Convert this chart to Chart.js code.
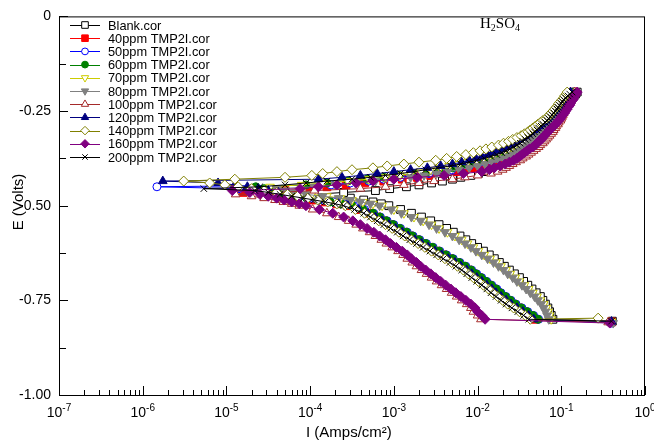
<!DOCTYPE html>
<html>
<head>
<meta charset="utf-8">
<script src="https://cdn.jsdelivr.net/npm/chart.js@4.4.1/dist/chart.umd.min.js"></script>
<style>
html, body { margin: 0; padding: 0; background: #fff; }
canvas { display: block; }
</style>
</head>
<body>
<canvas id="tafel" width="654" height="440" style="width:654px;height:440px"></canvas>
<script>
const seriesNames = ['Blank.cor', '40ppm TMP2I.cor', '50ppm TMP2I.cor', '60ppm TMP2I.cor', '70ppm TMP2I.cor',
    '80ppm TMP2I.cor', '100ppm TMP2I.cor', '120ppm TMP2I.cor', '140ppm TMP2I.cor', '160ppm TMP2I.cor', '200ppm TMP2I.cor'];

// scan potentials (V), shared by all runs
const potential = [
    -0.80, -0.79, -0.78, -0.77, -0.76, -0.75, -0.74, -0.73, -0.72, -0.71,
    -0.70, -0.69, -0.68, -0.67, -0.66, -0.65, -0.64, -0.63, -0.62, -0.61,
    -0.60, -0.59, -0.58, -0.57, -0.56, -0.55, -0.54, -0.53, -0.52, -0.51,
    -0.50, -0.495, -0.49, -0.485, -0.48, -0.475, -0.47, -0.465, -0.46, -0.455,
    -0.45, -0.445, -0.44, -0.435, -0.43, -0.425, -0.42, -0.415, -0.41, -0.405,
    -0.40, -0.395, -0.39, -0.385, -0.38, -0.375, -0.37, -0.365, -0.36, -0.355,
    -0.35, -0.345, -0.34, -0.335, -0.33, -0.325, -0.32, -0.315, -0.31, -0.305,
    -0.30, -0.295, -0.29, -0.285, -0.28, -0.275, -0.27, -0.265, -0.26, -0.255,
    -0.25, -0.245, -0.24, -0.235, -0.23, -0.225, -0.22, -0.215, -0.21, -0.205,
    -0.20];

// log10 of current density (A/cm2) at each potential
const logBlank = [
    -1.10, -1.12, -1.14, -1.16, -1.19, -1.22, -1.25, -1.30, -1.35, -1.40,
    -1.45, -1.50, -1.56, -1.62, -1.68, -1.74, -1.80, -1.86, -1.93, -2.00,
    -2.07, -2.14, -2.21, -2.29, -2.37, -2.46, -2.56, -2.67, -2.79, -2.92,
    -3.06, -3.15, -3.25, -3.36, -3.52, -4.36, -3.95, -3.60, -3.22, -3.05,
    -2.85, -2.70, -2.55, -2.42, -2.30, -2.20, -2.08, -1.99, -1.89, -1.82,
    -1.76, -1.70, -1.65, -1.60, -1.56, -1.53, -1.50, -1.47, -1.44, -1.40,
    -1.37, -1.34, -1.31, -1.29, -1.27, -1.25, -1.23, -1.21, -1.19, -1.17,
    -1.15, -1.13, -1.11, -1.09, -1.07, -1.06, -1.04, -1.03, -1.01, -1.00,
    -0.99, -0.98, -0.97, -0.95, -0.93, -0.91, -0.89, -0.87, -0.85, -0.83,
    -0.81];
const log40 = [
    -1.31, -1.37, -1.44, -1.51, -1.58, -1.64, -1.70, -1.76, -1.81, -1.87,
    -1.93, -1.99, -2.05, -2.11, -2.18, -2.25, -2.33, -2.41, -2.49, -2.57,
    -2.65, -2.73, -2.81, -2.88, -2.96, -3.04, -3.12, -3.20, -3.28, -3.40,
    -3.55, -3.68, -3.82, -3.98, -4.15, -4.35, -4.55, -4.80, -4.30, -4.00,
    -3.80, -3.57, -3.35, -3.12, -2.90, -2.72, -2.56, -2.40, -2.26, -2.15,
    -2.05, -1.96, -1.89, -1.82, -1.76, -1.70, -1.65, -1.60, -1.56, -1.52,
    -1.49, -1.46, -1.43, -1.40, -1.37, -1.34, -1.31, -1.29, -1.26, -1.24,
    -1.22, -1.20, -1.18, -1.15, -1.13, -1.11, -1.09, -1.07, -1.05, -1.04,
    -1.02, -1.00, -0.99, -0.97, -0.96, -0.94, -0.92, -0.90, -0.88, -0.87,
    -0.85];
const log50 = [
    -1.27, -1.33, -1.40, -1.47, -1.54, -1.60, -1.66, -1.72, -1.77, -1.83,
    -1.89, -1.95, -2.01, -2.07, -2.14, -2.21, -2.29, -2.37, -2.45, -2.53,
    -2.61, -2.69, -2.77, -2.84, -2.92, -3.00, -3.08, -3.16, -3.24, -3.35,
    -3.48, -3.60, -3.72, -3.85, -3.98, -4.12, -4.26, -4.42, -4.60, -4.85,
    -5.83, -3.75, -3.52, -3.30, -3.12, -2.92, -2.74, -2.58, -2.44, -2.31,
    -2.20, -2.10, -2.00, -1.92, -1.85, -1.78, -1.71, -1.66, -1.61, -1.57,
    -1.53, -1.49, -1.46, -1.42, -1.39, -1.36, -1.33, -1.31, -1.28, -1.26,
    -1.24, -1.21, -1.19, -1.17, -1.15, -1.13, -1.11, -1.09, -1.07, -1.05,
    -1.04, -1.02, -1.01, -0.99, -0.97, -0.96, -0.94, -0.92, -0.90, -0.88,
    -0.86];
const log60 = [
    -1.28, -1.34, -1.41, -1.48, -1.55, -1.61, -1.67, -1.73, -1.78, -1.84,
    -1.90, -1.96, -2.02, -2.08, -2.15, -2.22, -2.30, -2.38, -2.46, -2.54,
    -2.62, -2.70, -2.78, -2.85, -2.93, -3.01, -3.09, -3.17, -3.25, -3.37,
    -3.50, -3.63, -3.76, -3.90, -4.04, -4.18, -4.28, -4.35, -4.45, -4.55,
    -4.65, -4.05, -3.80, -3.55, -3.32, -3.12, -2.94, -2.76, -2.60, -2.44,
    -2.30, -2.19, -2.09, -2.00, -1.92, -1.85, -1.78, -1.72, -1.66, -1.61,
    -1.57, -1.53, -1.49, -1.45, -1.42, -1.39, -1.36, -1.33, -1.30, -1.28,
    -1.25, -1.23, -1.20, -1.18, -1.15, -1.13, -1.11, -1.09, -1.07, -1.05,
    -1.04, -1.02, -1.00, -0.99, -0.97, -0.95, -0.93, -0.91, -0.89, -0.88,
    -0.86];
const log70 = [
    -1.12, -1.14, -1.16, -1.18, -1.21, -1.25, -1.29, -1.34, -1.39, -1.44,
    -1.50, -1.55, -1.61, -1.66, -1.72, -1.78, -1.85, -1.92, -1.99, -2.05,
    -2.12, -2.19, -2.27, -2.36, -2.46, -2.55, -2.65, -2.76, -2.88, -3.00,
    -3.14, -3.25, -3.37, -3.50, -3.64, -3.80, -3.98, -4.15, -4.30, -4.40,
    -4.48, -4.10, -3.85, -3.55, -3.30, -3.10, -2.93, -2.80, -2.68, -2.56,
    -2.45, -2.34, -2.22, -2.12, -2.01, -1.93, -1.86, -1.80, -1.74, -1.68,
    -1.63, -1.59, -1.55, -1.51, -1.47, -1.44, -1.41, -1.38, -1.35, -1.32,
    -1.30, -1.27, -1.25, -1.22, -1.20, -1.17, -1.14, -1.12, -1.10, -1.08,
    -1.06, -1.05, -1.03, -1.02, -1.00, -0.99, -0.97, -0.95, -0.93, -0.91,
    -0.90];
const log80 = [
    -1.15, -1.17, -1.19, -1.21, -1.24, -1.28, -1.32, -1.37, -1.42, -1.47,
    -1.53, -1.58, -1.64, -1.69, -1.75, -1.81, -1.88, -1.95, -2.02, -2.08,
    -2.15, -2.22, -2.30, -2.39, -2.49, -2.58, -2.68, -2.79, -2.91, -3.03,
    -3.17, -3.28, -3.40, -3.52, -3.66, -3.85, -4.05, -4.20, -4.30, -4.40,
    -3.95, -3.70, -3.46, -3.22, -3.00, -2.80, -2.64, -2.49, -2.36, -2.22,
    -2.10, -2.00, -1.91, -1.82, -1.75, -1.69, -1.63, -1.58, -1.54, -1.50,
    -1.47, -1.44, -1.41, -1.38, -1.36, -1.33, -1.31, -1.28, -1.26, -1.24,
    -1.22, -1.20, -1.18, -1.16, -1.14, -1.12, -1.10, -1.08, -1.06, -1.04,
    -1.02, -1.01, -0.99, -0.98, -0.96, -0.95, -0.93, -0.91, -0.89, -0.87,
    -0.85];
const log100 = [
    -1.96, -2.00, -2.05, -2.08, -2.13, -2.19, -2.25, -2.31, -2.37, -2.43,
    -2.49, -2.55, -2.61, -2.67, -2.73, -2.78, -2.84, -2.89, -2.95, -3.02,
    -3.09, -3.15, -3.22, -3.29, -3.37, -3.45, -3.54, -3.66, -3.80, -3.97,
    -4.13, -4.22, -4.32, -4.42, -4.55, -4.70, -4.89, -4.40, -3.95, -3.40,
    -3.10, -2.88, -2.70, -2.52, -2.30, -2.15, -2.00, -1.84, -1.76, -1.70,
    -1.66, -1.62, -1.58, -1.54, -1.49, -1.46, -1.42, -1.39, -1.36, -1.33,
    -1.30, -1.27, -1.25, -1.22, -1.20, -1.18, -1.16, -1.14, -1.12, -1.10,
    -1.09, -1.07, -1.06, -1.04, -1.03, -1.01, -1.00, -0.99, -0.98, -0.97,
    -0.96, -0.95, -0.94, -0.93, -0.92, -0.90, -0.89, -0.88, -0.86, -0.85,
    -0.84];
const log120 = [
    -1.33, -1.39, -1.46, -1.53, -1.60, -1.66, -1.72, -1.78, -1.83, -1.89,
    -1.95, -2.01, -2.07, -2.13, -2.20, -2.27, -2.35, -2.43, -2.51, -2.59,
    -2.67, -2.75, -2.83, -2.90, -2.98, -3.06, -3.14, -3.22, -3.31, -3.42,
    -3.55, -3.66, -3.78, -3.90, -4.02, -4.14, -4.26, -4.38, -4.50, -4.62,
    -4.75, -4.90, -5.10, -5.76, -3.90, -3.62, -3.40, -3.20, -3.00, -2.80,
    -2.60, -2.44, -2.30, -2.19, -2.10, -2.02, -1.95, -1.88, -1.82, -1.76,
    -1.71, -1.66, -1.62, -1.58, -1.54, -1.50, -1.46, -1.43, -1.40, -1.37,
    -1.33, -1.30, -1.27, -1.24, -1.21, -1.19, -1.17, -1.15, -1.13, -1.11,
    -1.09, -1.07, -1.05, -1.03, -1.01, -0.99, -0.97, -0.95, -0.93, -0.91,
    -0.89];
const log140 = [
    -1.37, -1.43, -1.50, -1.57, -1.64, -1.70, -1.76, -1.82, -1.87, -1.93,
    -1.99, -2.05, -2.11, -2.17, -2.24, -2.31, -2.39, -2.47, -2.55, -2.63,
    -2.71, -2.79, -2.87, -2.94, -3.02, -3.10, -3.18, -3.26, -3.35, -3.46,
    -3.58, -3.68, -3.79, -3.91, -4.03, -4.15, -4.27, -4.40, -4.55, -4.70,
    -4.86, -5.02, -5.20, -5.51, -4.90, -4.30, -3.98, -3.85, -3.68, -3.50,
    -3.25, -3.08, -2.88, -2.70, -2.50, -2.37, -2.25, -2.14, -2.05, -1.97,
    -1.90, -1.83, -1.75, -1.69, -1.63, -1.58, -1.53, -1.48, -1.44, -1.40,
    -1.37, -1.34, -1.31, -1.28, -1.25, -1.22, -1.18, -1.16, -1.14, -1.12,
    -1.10, -1.08, -1.06, -1.04, -1.03, -1.01, -0.99, -0.97, -0.96, -0.94,
    -0.93];
const log160 = [
    -1.91, -1.95, -2.00, -2.03, -2.08, -2.14, -2.20, -2.26, -2.32, -2.38,
    -2.44, -2.50, -2.56, -2.62, -2.68, -2.73, -2.79, -2.84, -2.90, -2.97,
    -3.04, -3.10, -3.17, -3.24, -3.32, -3.40, -3.49, -3.60, -3.73, -3.89,
    -4.05, -4.13, -4.22, -4.31, -4.40, -4.50, -4.60, -4.72, -4.93, -4.12,
    -3.90, -3.68, -3.45, -3.25, -3.00, -2.72, -2.40, -2.17, -1.95, -1.86,
    -1.80, -1.73, -1.67, -1.62, -1.57, -1.53, -1.50, -1.47, -1.44, -1.41,
    -1.38, -1.34, -1.31, -1.29, -1.27, -1.24, -1.22, -1.20, -1.18, -1.16,
    -1.14, -1.12, -1.09, -1.07, -1.05, -1.03, -1.01, -1.00, -0.98, -0.96,
    -0.95, -0.93, -0.92, -0.90, -0.89, -0.88, -0.86, -0.85, -0.84, -0.82,
    -0.81];
const log200 = [
    -1.39, -1.45, -1.52, -1.59, -1.66, -1.72, -1.78, -1.84, -1.89, -1.95,
    -2.01, -2.07, -2.13, -2.19, -2.26, -2.33, -2.41, -2.49, -2.57, -2.65,
    -2.73, -2.81, -2.89, -2.96, -3.04, -3.12, -3.20, -3.28, -3.36, -3.47,
    -3.60, -3.70, -3.82, -3.95, -4.08, -4.22, -4.36, -4.50, -4.66, -5.27,
    -4.60, -4.30, -4.05, -3.80, -3.50, -3.28, -3.10, -2.92, -2.76, -2.62,
    -2.48, -2.32, -2.20, -2.10, -2.01, -1.92, -1.84, -1.77, -1.71, -1.66,
    -1.61, -1.57, -1.53, -1.49, -1.46, -1.43, -1.40, -1.37, -1.34, -1.32,
    -1.29, -1.27, -1.24, -1.22, -1.19, -1.17, -1.15, -1.13, -1.11, -1.09,
    -1.07, -1.05, -1.04, -1.02, -1.00, -0.99, -0.97, -0.95, -0.92, -0.90,
    -0.87];

// first recorded point of each scan (start transient)
const startLogI = [-0.39, -0.40, -0.40, -0.42, -0.40, -0.38, -0.44, -0.40, -0.56, -0.42, -0.40];
const startE = [-0.805, -0.807, -0.810, -0.808, -0.806, -0.810, -0.808, -0.806, -0.797, -0.810, -0.805];

const seriesLog = [logBlank, log40, log50, log60, log70, log80, log100, log120, log140, log160, log200];
const decades = [1e-7, 1e-6, 1e-5, 1e-4, 1e-3, 1e-2, 1e-1, 1];
const decadeExp = ['-7', '-6', '-5', '-4', '-3', '-2', '-1', '0'];

const styles = [
    { color: '#000000', point: 'rect', fill: '#ffffff', r: 5.5, rot: 0 },
    { color: '#ff0000', point: 'rect', fill: '#ff0000', r: 5.5, rot: 0 },
    { color: '#0000ff', point: 'circle', fill: '#ffffff', r: 4, rot: 0 },
    { color: '#008000', point: 'circle', fill: '#008000', r: 4, rot: 0 },
    { color: '#cccc00', point: 'triangle', fill: '#ffffff', r: 5, rot: 180 },
    { color: '#808080', point: 'triangle', fill: '#808080', r: 5, rot: 180 },
    { color: '#a52a2a', point: 'triangle', fill: '#ffffff', r: 5, rot: 0 },
    { color: '#000080', point: 'triangle', fill: '#000080', r: 5, rot: 0 },
    { color: '#808000', point: 'rectRot', fill: '#ffffff', r: 5, rot: 0 },
    { color: '#800080', point: 'rectRot', fill: '#800080', r: 5, rot: 0 },
    { color: '#000000', point: 'crossRot', fill: '#000000', r: 4.5, rot: 0 }
];

const datasets = seriesLog.map((logs, i) => ({
    label: seriesNames[i],
    data: [{ x: 10 ** startLogI[i], y: startE[i] }]
        .concat(logs.map((v, k) => ({ x: 10 ** v, y: potential[k] }))),
    showLine: true,
    borderColor: styles[i].color,
    borderWidth: 1,
    pointStyle: styles[i].point,
    pointRotation: styles[i].rot,
    pointRadius: styles[i].r,
    pointBackgroundColor: styles[i].fill,
    pointBorderColor: styles[i].color,
    pointBorderWidth: 1,
    order: seriesLog.length - i
}));

function supText(ctx, base, sup, cx, y, size) {
    const big = size + 'px "Liberation Sans", Arial, sans-serif';
    const small = Math.round(size * 0.68) + 'px "Liberation Sans", Arial, sans-serif';
    ctx.font = big;
    const w1 = ctx.measureText(base).width;
    ctx.font = small;
    const w2 = ctx.measureText(sup).width;
    const x = cx - (w1 + w2) / 2;
    ctx.font = big;
    ctx.fillText(base, x, y);
    ctx.font = small;
    ctx.fillText(sup, x + w1, y - size * 0.4);
}

const decorations = {
    id: 'decorations',
    afterDatasetsDraw(chart) {
        const { ctx, chartArea: a, scales: { x, y } } = chart;
        ctx.save();
        ctx.strokeStyle = '#000';
        ctx.lineWidth = 1;
        ctx.strokeRect(a.left + 0.5, a.top + 0.5, a.right - a.left - 1, a.bottom - a.top);

        // inward ticks
        ctx.beginPath();
        decades.forEach((d, i) => {
            const px = Math.round(x.getPixelForValue(d)) + 0.5;
            ctx.moveTo(px, a.bottom); ctx.lineTo(px, a.bottom - 9);
            if (i < decades.length - 1) {
                for (let m = 2; m <= 9; m++) {
                    const mx = Math.round(x.getPixelForValue(d * m)) + 0.5;
                    ctx.moveTo(mx, a.bottom); ctx.lineTo(mx, a.bottom - 5);
                }
            }
        });
        for (let k = 0; k <= 8; k++) {
            const py = Math.round(y.getPixelForValue(-1 + k * 0.125)) + 0.5;
            ctx.moveTo(a.left, py); ctx.lineTo(a.left + (k % 2 === 0 ? 9 : 7), py);
        }
        ctx.stroke();

        ctx.fillStyle = '#000';
        ctx.textBaseline = 'alphabetic';
        ctx.textAlign = 'left';
        decades.forEach((d, i) => supText(ctx, '10', decadeExp[i], x.getPixelForValue(d), 417, 14));

        ctx.font = '15px "Liberation Sans", Arial, sans-serif';
        ctx.fillText('I (Amps/cm\u00b2)', 306, 437);
        ctx.save();
        ctx.translate(23, 202);
        ctx.rotate(-Math.PI / 2);
        ctx.textAlign = 'center';
        ctx.fillText('E (Volts)', 0, 0);
        ctx.restore();

        // H2SO4
        let tx = 480;
        [['H', 0], ['2', 1], ['SO', 0], ['4', 1]].forEach(([t, sub]) => {
            ctx.font = (sub ? '10px' : '15px') + ' "Liberation Serif", "Times New Roman", serif';
            ctx.fillText(t, tx, sub ? 31 : 28);
            tx += ctx.measureText(t).width;
        });

        // legend
        ctx.textBaseline = 'middle';
        seriesNames.forEach((name, i) => {
            const ly = 25 + i * 13.2;
            const s = styles[i];
            ctx.strokeStyle = s.color;
            ctx.beginPath();
            ctx.moveTo(70, Math.round(ly) + 0.5); ctx.lineTo(100, Math.round(ly) + 0.5);
            ctx.stroke();
            ctx.fillStyle = s.fill;
            Chart.helpers.drawPoint(ctx, { pointStyle: s.point, rotation: s.rot, radius: s.r * 0.85, borderWidth: 1 }, 85, ly);
            ctx.fillStyle = '#000';
            ctx.font = '12.8px "Liberation Sans", Arial, sans-serif';
            ctx.fillText(name, 108, ly + 1);
        });
        ctx.restore();
    }
};

new Chart(document.getElementById('tafel'), {
    type: 'scatter',
    data: { datasets },
    options: {
        responsive: false,
        animation: false,
        layout: { padding: { top: 10, right: 9, left: 0, bottom: 0 } },
        plugins: { legend: { display: false }, tooltip: { enabled: false } },
        scales: {
            x: {
                type: 'logarithmic', min: 1e-7, max: 1,
                ticks: { display: false },
                grid: { display: false },
                border: { display: false },
                afterFit: s => { s.height = 45; }
            },
            y: {
                min: -1, max: 0,
                ticks: {
                    stepSize: 0.25,
                    padding: 8,
                    color: '#000',
                    font: { size: 14, family: '"Liberation Sans", Arial, sans-serif' },
                    callback: v => (v === 0 ? '0' : v.toFixed(2))
                },
                grid: { display: false, drawTicks: false },
                border: { display: false },
                afterFit: s => { s.width = 59; }
            }
        }
    },
    plugins: [decorations]
});
</script>
</body>
</html>
